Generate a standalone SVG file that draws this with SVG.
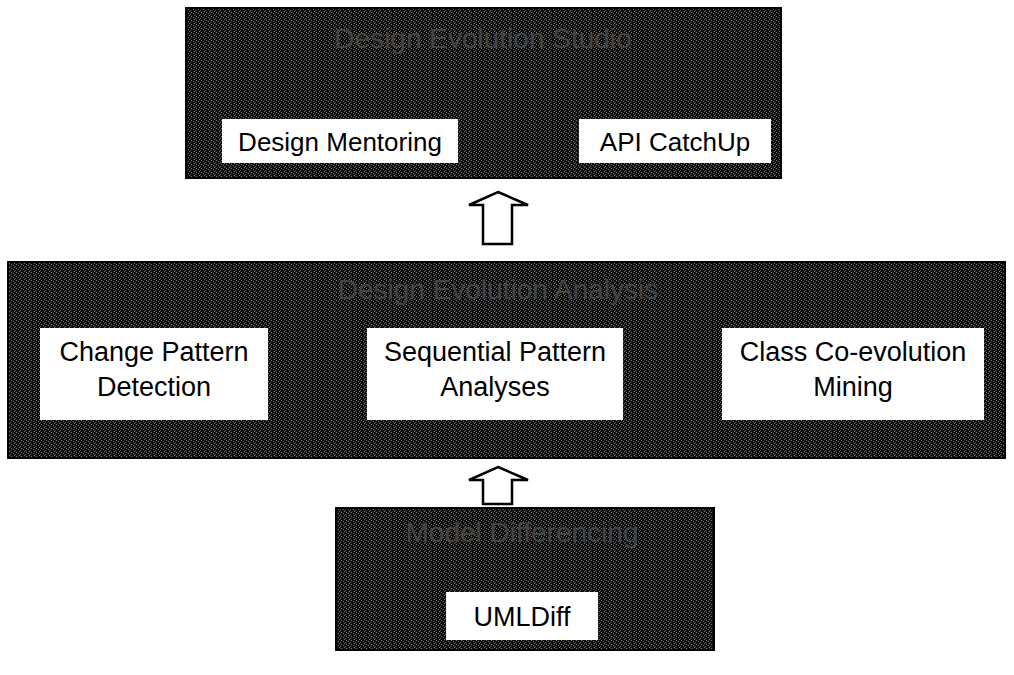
<svg xmlns="http://www.w3.org/2000/svg" width="1014" height="675" viewBox="0 0 1014 675">
  <defs>
    <!-- halftone grain for the dark layer panels -->
    <pattern id="grain" width="5" height="4" patternUnits="userSpaceOnUse">
      <rect width="5" height="4" fill="#101010"/>
      <rect x="1" y="0" width="1" height="1" fill="#7a7a7a"/>
      <rect x="3" y="1" width="1" height="1" fill="#666"/>
      <rect x="0" y="2" width="1" height="1" fill="#5a5a5a"/>
      <rect x="4" y="3" width="1" height="1" fill="#727272"/>
    </pattern>
    <style>
      .layer { fill: url(#grain); stroke: #000; stroke-width: 2; }
      .title { font-family: "Liberation Sans", Arial, sans-serif; font-size: 28px; fill: #444; text-anchor: middle; }
      .box { fill: #fff; stroke: none; }
      .lbl { font-family: "Liberation Sans", Arial, sans-serif; font-size: 26px; fill: #000; text-anchor: middle; }
      .lbl2 { font-family: "Liberation Sans", Arial, sans-serif; font-size: 27px; fill: #000; text-anchor: middle; }
      .arrow { fill: #fff; stroke: #000; stroke-width: 2.5; stroke-linejoin: miter; }
    </style>
  </defs>

  <rect width="1014" height="675" fill="#fff"/>

  <!-- top layer: applications -->
  <g id="studio">
    <rect class="layer" x="186" y="8" width="595" height="170"/>
    <text class="title" x="483" y="48">Design Evolution Studio</text>
  </g>
  <g id="design-mentoring">
    <rect class="box" x="222" y="119" width="236" height="44"/>
    <text class="lbl" x="340" y="151">Design Mentoring</text>
  </g>
  <g id="api-catchup">
    <rect class="box" x="579" y="119" width="192" height="44"/>
    <text class="lbl" x="675" y="151">API CatchUp</text>
  </g>

  <!-- middle layer: analyses -->
  <g id="design-evolution-analysis">
    <rect class="layer" x="8" y="262" width="997" height="196"/>
    <text class="title" x="498" y="299">Design Evolution Analysis</text>
  </g>
  <g id="change-pattern-detection">
    <rect class="box" x="40" y="328" width="228" height="92"/>
    <text class="lbl2" x="154" y="361">Change Pattern</text>
    <text class="lbl2" x="154" y="396">Detection</text>
  </g>
  <g id="sequential-pattern-analyses">
    <rect class="box" x="367" y="328" width="256" height="92"/>
    <text class="lbl2" x="495" y="361">Sequential Pattern</text>
    <text class="lbl2" x="495" y="396">Analyses</text>
  </g>
  <g id="class-co-evolution-mining">
    <rect class="box" x="722" y="328" width="262" height="92"/>
    <text class="lbl2" x="853" y="361">Class Co-evolution</text>
    <text class="lbl2" x="853" y="396">Mining</text>
  </g>

  <!-- bottom layer: differencing -->
  <g id="model-differencing">
    <rect class="layer" x="336" y="508" width="378" height="142"/>
    <text class="title" x="522" y="542">Model Differencing</text>
  </g>
  <g id="umldiff">
    <rect class="box" x="446" y="592" width="152" height="48"/>
    <text class="lbl2" x="522" y="626">UMLDiff</text>
  </g>

  <!-- connectors: hollow block arrows between layers -->
  <g id="connectors">
    <path class="arrow" d="M498,192 L528,205 L512,205 L512,244 L483,244 L483,205 L469,205 Z"/>
    <path class="arrow" d="M498,467 L528,480 L512,480 L512,504 L483,504 L483,480 L469,480 Z"/>
  </g>
</svg>
